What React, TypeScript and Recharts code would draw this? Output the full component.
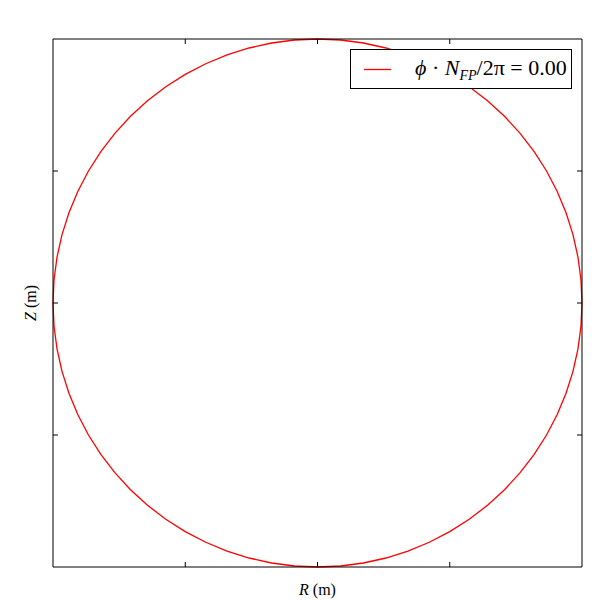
import React from "react";
import { LineChart, Line, XAxis, YAxis, Legend, Label } from "recharts";

const rValues = [
  1, 0.9962, 0.9848, 0.9659, 0.9397, 0.9063, 0.866, 0.8192, 0.766, 0.7071, 0.6428, 0.5736, 0.5, 0.4226, 0.342, 0.2588, 0.1736, 0.0872, 0,
  -0.0872, -0.1736, -0.2588, -0.342, -0.4226, -0.5, -0.5736, -0.6428, -0.7071, -0.766, -0.8192, -0.866, -0.9063, -0.9397, -0.9659, -0.9848, -0.9962, -1,
  -0.9962, -0.9848, -0.9659, -0.9397, -0.9063, -0.866, -0.8192, -0.766, -0.7071, -0.6428, -0.5736, -0.5, -0.4226, -0.342, -0.2588, -0.1736, -0.0872, 0,
  0.0872, 0.1736, 0.2588, 0.342, 0.4226, 0.5, 0.5736, 0.6428, 0.7071, 0.766, 0.8192, 0.866, 0.9063, 0.9397, 0.9659, 0.9848, 0.9962, 1,
];
const zValues = [
  0, 0.0872, 0.1736, 0.2588, 0.342, 0.4226, 0.5, 0.5736, 0.6428, 0.7071, 0.766, 0.8192, 0.866, 0.9063, 0.9397, 0.9659, 0.9848, 0.9962, 1,
  0.9962, 0.9848, 0.9659, 0.9397, 0.9063, 0.866, 0.8192, 0.766, 0.7071, 0.6428, 0.5736, 0.5, 0.4226, 0.342, 0.2588, 0.1736, 0.0872, 0,
  -0.0872, -0.1736, -0.2588, -0.342, -0.4226, -0.5, -0.5736, -0.6428, -0.7071, -0.766, -0.8192, -0.866, -0.9063, -0.9397, -0.9659, -0.9848, -0.9962, -1,
  -0.9962, -0.9848, -0.9659, -0.9397, -0.9063, -0.866, -0.8192, -0.766, -0.7071, -0.6428, -0.5736, -0.5, -0.4226, -0.342, -0.2588, -0.1736, -0.0872, 0,
];
const ticks = [-0.5, 0, 0.5];
const domain = [-1, 1];

const data = rValues.map((r, i) => ({ R: r, Z: zValues[i] }));

const serif = "'Liberation Serif', 'DejaVu Serif', serif";

const LegendBox = () => (
  <div
    style={{
      width: 220,
      height: 38,
      border: "1px solid #000",
      background: "#fff",
      position: "relative",
      fontFamily: serif,
      fontSize: 22,
      color: "#000",
      boxSizing: "content-box",
    }}
  >
    <svg width={40} height={38} style={{ position: "absolute", left: 0, top: 0 }}>
      <line x1={13} y1={19.5} x2={43} y2={19.5} stroke="#ff0000" strokeWidth={1.3} />
    </svg>
    <div style={{ position: "absolute", left: 64, top: 5, whiteSpace: "nowrap", lineHeight: "26px" }}>
      <i>ϕ</i> · <i>N</i>
      <sub style={{ fontSize: 14 }}><i>FP</i></sub>/2π = 0.00
    </div>
  </div>
);

const YLabel = (props: any) => {
  const vb = props.viewBox || {};
  const x = vb.x + vb.width - 24;
  const y = vb.y + vb.height / 2;
  return (
    <text x={x} y={y} transform={`rotate(-90, ${x}, ${y})`} textAnchor="middle" dominantBaseline="central" fontFamily={serif} fontSize={16} fill="#000">
      <tspan fontStyle="italic">Z</tspan> (m)
    </text>
  );
};

const XLabel = (props: any) => {
  const vb = props.viewBox || {};
  const x = vb.x + vb.width / 2;
  const y = vb.y + 23;
  return (
    <text x={x} y={y} textAnchor="middle" dominantBaseline="central" fontFamily={serif} fontSize={16} fill="#000">
      <tspan fontStyle="italic">R</tspan> (m)
    </text>
  );
};

const EmptyTick = () => <g />;

const axisProps = {
  type: "number" as const,
  domain,
  ticks,
  tick: EmptyTick,
  tickSize: 5,
  mirror: true,
  axisLine: { stroke: "#000", strokeWidth: 1 },
  tickLine: { stroke: "#000", strokeWidth: 1 },
};

export default function App() {
  return (
    <div style={{ position: "absolute", left: 0, top: 0, background: "#fff" }}>
      <LineChart width={600} height={600} data={data} margin={{ top: 39, left: 53, right: 18, bottom: 33 }}>
        <XAxis xAxisId="b" dataKey="R" orientation="bottom" height={1} {...axisProps}>
          <Label content={<XLabel />} />
        </XAxis>
        <XAxis xAxisId="t" dataKey="R" orientation="top" height={1} {...axisProps} />
        <YAxis yAxisId="l" dataKey="Z" orientation="left" width={1} {...axisProps}>
          <Label content={<YLabel />} />
        </YAxis>
        <YAxis yAxisId="r" dataKey="Z" orientation="right" width={1} {...axisProps} />
        <Legend
          layout="horizontal"
          verticalAlign="middle"
          align="center"
          content={<LegendBox />}
          wrapperStyle={{ top: 49, left: 350, width: 222, height: 40 }}
        />
        <Line
          xAxisId="b"
          yAxisId="l"
          dataKey="Z"
          type="linear"
          stroke="#ff0000"
          strokeWidth={1.3}
          dot={false}
          activeDot={false}
          isAnimationActive={false}
          legendType="line"
        />
      </LineChart>
    </div>
  );
}
